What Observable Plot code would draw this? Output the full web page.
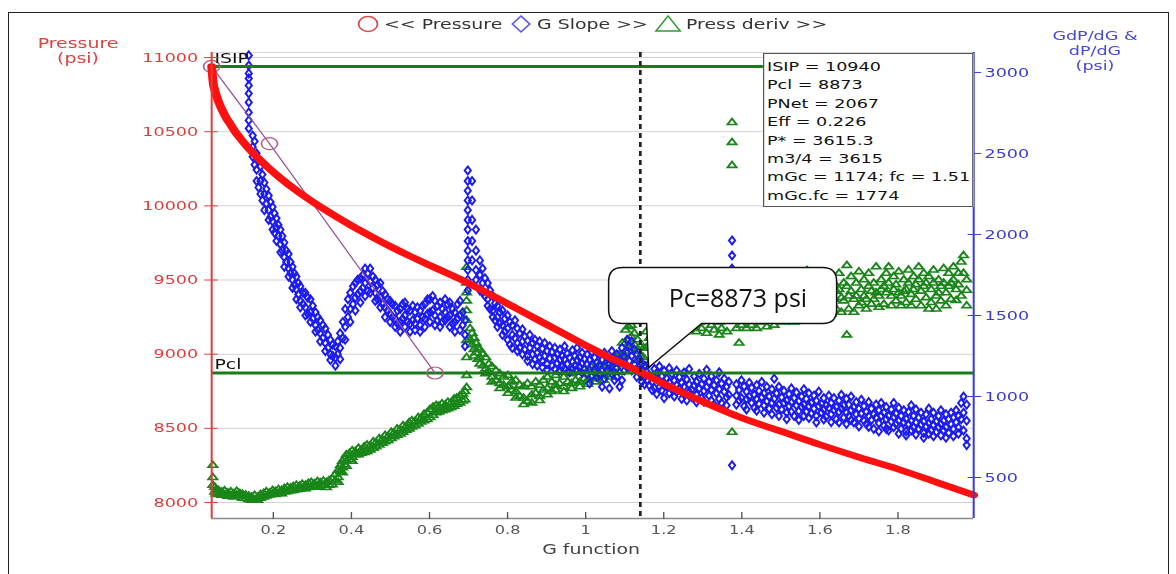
<!DOCTYPE html>
<html><head><meta charset="utf-8">
<script src="https://cdn.jsdelivr.net/npm/d3@7"></script>
<script src="https://cdn.jsdelivr.net/npm/@observablehq/plot@0.6"></script>
<style>
html,body{margin:0;padding:0;background:#fff;}
body{width:1176px;height:574px;overflow:hidden;position:relative;font-family:"DejaVu Sans",sans-serif;}
#frame{position:absolute;left:8px;top:12px;width:1161px;height:572px;border:1.5px solid #222;box-sizing:border-box;}
#stretch{position:absolute;left:0;top:0;width:871px;height:574px;transform:scaleX(1.3502);transform-origin:0 0;}
#chart{position:absolute;left:0;top:0;}
#legend{position:absolute;left:0;top:4px;}
.ttl{position:absolute;width:100px;text-align:center;line-height:15px;}
#ttlL{left:7.8px;top:35.5px;font-size:14px;color:#e04040;}
#ttlR{left:761px;top:27.5px;font-size:13px;color:#4848d8;}
#info{position:absolute;left:565.1px;top:53px;width:155.5px;height:154px;box-sizing:border-box;border:1px solid #555;background:#fff;padding:4px 0 0 2px;font-size:13px;line-height:18.4px;color:#111;white-space:nowrap;}
#xlabel{position:absolute;left:387.8px;width:100px;text-align:center;top:541px;font-size:14px;color:#444;}
#callout{position:absolute;left:0;top:0;}
</style></head><body>
<div id="frame"></div>
<div id="stretch">
  <div id="chart"></div>
  <svg id="legend" width="871" height="40"></svg>
  <div class="ttl" id="ttlL"></div>
  <div class="ttl" id="ttlR"></div>
  <div id="info"></div>
  <div id="xlabel"></div>
</div>
<svg id="callout" width="1176" height="574"></svg>
<script>
// ---------- data ----------
const ISIP = 10940;
const PCL = 8873;
const PC_G = 1.14;
const xDomain = [0.042, 1.994];
const yDomain = [7892, 11034];        // left axis (psi)
const rightDomain = [247, 3123];      // right axis (GdP/dG & dP/dG)
const xTicks = [0.2, 0.4, 0.6, 0.8, 1, 1.2, 1.4, 1.6, 1.8];
const leftTicks = [8000, 8500, 9000, 9500, 10000, 10500, 11000];
const rightTicks = [500, 1000, 1500, 2000, 2500, 3000];
const legendLabels = ["<< Pressure", "G Slope >>", "Press deriv >>"];
const leftTitle = ["Pressure", "(psi)"];
const rightTitle = ["GdP/dG &", "dP/dG", "(psi)"];
const xTitle = "G function";
const infoLines = ["ISIP = 10940", "Pcl = 8873", "PNet = 2067", "Eff = 0.226", "P* = 3615.3", "m3/4 = 3615", "mGc = 1174; fc = 1.51", "mGc.fc = 1774"];
const calloutText = "Pc=8873 psi";

const pressureG = [0.042,0.046,0.05,0.06,0.07,0.08,0.09,0.10,0.12,0.14,0.16,0.185,0.22,0.26,0.30,0.35,0.40,0.45,0.50,0.55,0.60,0.65,0.70,0.75,0.80,0.85,0.90,0.95,1.00,1.05,1.10,1.14,1.20,1.30,1.40,1.50,1.60,1.70,1.80,1.90,1.994];
const pressureP = [10940,10826,10780,10700,10640,10590,10550,10508,10440,10378,10324,10262,10183,10102,10029,9945,9867,9795,9726,9661,9600,9540,9478,9410,9340,9270,9200,9130,9060,8992,8930,8880,8800,8680,8570,8480,8390,8305,8225,8135,8050];

const tangentG = [0.042, 0.19, 0.614];
const tangentP = [10940, 10420, 8873];

// G Slope rows: [G, values...] (right axis units)
const gSlopeRows = [
[0.137,3105,3043,2994,2963,2920,2870,2815,2753,2704,2654],
[0.147,2610,2540,2480],[0.152,2575,2430],[0.157,2500,2400,2330],[0.162,2460,2290],[0.167,2420,2330,2250],
[0.172,2370,2210],[0.177,2320,2250,2150],[0.182,2280,2190],[0.188,2240,2150,2090],[0.193,2200,2110],
[0.198,2170,2080,2030],[0.203,2130,2010],[0.208,2100,2040,1960],[0.213,2060,1990],[0.218,2030,1940,1890],
[0.223,1990,1900],[0.228,1950,1860,1800],[0.233,1900,1830],[0.239,1880,1790,1740],[0.244,1830,1760],
[0.249,1800,1720,1670],[0.254,1760,1690],[0.259,1740,1660,1600],[0.264,1700,1630],[0.269,1680,1590,1550],
[0.276,1640,1570],[0.282,1640,1550,1500],[0.288,1610,1510],[0.295,1600,1520,1460],[0.301,1560,1480],
[0.308,1520,1440,1400],[0.314,1490,1410],[0.320,1470,1390,1340],[0.327,1440,1360],[0.333,1420,1330,1280],
[0.340,1380,1300],[0.346,1350,1260,1225],[0.352,1320,1250],[0.359,1310,1240,1190],[0.365,1340,1260],
[0.371,1390,1300,1230],[0.378,1460,1360],[0.384,1540,1430,1350],[0.391,1600,1490],[0.397,1640,1540,1460],
[0.404,1680,1570],[0.410,1700,1610,1530],[0.416,1720,1630],[0.423,1730,1650,1580],[0.429,1750,1670],
[0.435,1790,1700,1620],[0.442,1760,1650],[0.448,1790,1710,1640],[0.455,1740,1670],[0.461,1720,1640,1590],
[0.467,1690,1600],[0.474,1700,1610,1550],[0.480,1650,1570],[0.486,1630,1550,1490],[0.493,1600,1530],
[0.499,1590,1510,1460],[0.505,1570,1490],[0.512,1560,1480,1430],[0.518,1530,1450],[0.525,1540,1460,1400],
[0.531,1570,1480],[0.537,1580,1500,1430],[0.544,1540,1460],[0.550,1530,1450,1400],[0.557,1560,1470],
[0.563,1520,1450,1410],[0.569,1550,1480],[0.576,1530,1440,1400],[0.582,1560,1490],[0.588,1570,1480,1430],
[0.595,1600,1510],[0.601,1600,1520,1460],[0.608,1620,1530],[0.614,1590,1500,1440],[0.620,1560,1470],
[0.627,1580,1490,1430],[0.633,1540,1460],[0.640,1600,1520,1470],[0.646,1570,1490],[0.652,1580,1500,1430],
[0.659,1540,1450],[0.665,1520,1460,1400],[0.672,1570,1480],[0.678,1590,1500,1410],[0.685,1520,1440],
[0.691,1470,1380,1310],
[0.698,2395,2330,2270,2210,2150,2090,2030,1960,1900,1840,1780,1720,1655],
[0.709,2330,2210,2090,1960,1840],[0.719,2030,1900,1780,1720],[0.729,1840,1750,1655],
[0.736,1790,1700,1640],[0.742,1730,1620],[0.749,1700,1600,1560],[0.755,1655,1540],[0.762,1620,1530,1490],
[0.768,1575,1470],[0.774,1560,1490,1430],[0.780,1520,1450],[0.787,1530,1440,1380],[0.793,1480,1400],
[0.800,1500,1420,1350],[0.806,1460,1320],[0.812,1440,1380,1300],[0.819,1470,1360],[0.825,1420,1330,1280],
[0.831,1390,1300],[0.838,1415,1340,1260],[0.844,1370,1290],[0.851,1345,1250,1220],[0.857,1380,1300],
[0.864,1330,1260,1200],[0.870,1350,1230],[0.876,1310,1270,1190],[0.882,1340,1240],[0.889,1295,1220,1180],
[0.895,1330,1250],[0.901,1280,1200,1165],[0.908,1310,1235],[0.914,1275,1190],[0.921,1300,1240,1170],
[0.927,1260,1205],[0.934,1290,1225,1160],[0.940,1250,1185],[0.946,1310,1230,1175],[0.953,1265,1200],
[0.959,1240,1150],[0.966,1285,1215,1170],[0.972,1250,1190],[0.978,1300,1225,1160],[0.985,1240,1180],
[0.991,1270,1205,1145],[0.997,1230,1170],[1.004,1260,1200,1140],[1.010,1225,1080],[1.016,1275,1195,1130],
[1.023,1240,1160],[1.029,1210,1120],[1.036,1260,1190,1135],[1.042,1225,1060],[1.048,1270,1185,1110],
[1.055,1240,1160],[1.061,1200,1050],[1.067,1280,1190,1140],[1.074,1230,1100],[1.080,1260,1175,1120],
[1.087,1215,1060],[1.093,1300,1210,1100],[1.099,1250,1160],[1.106,1350,1270,1180],[1.112,1310,1220],
[1.118,1340,1250,1160],[1.125,1290,1200],[1.131,1260,1170,1120],[1.138,1230,1150],[1.144,1200,1130,1090],
[1.151,1190,1120,1075],[1.157,1150,1098],[1.163,1205,1130,1068],[1.170,1090,1040],[1.176,1170,1120,1052],
[1.182,1145,1015],[1.189,1186,1095,1060],[1.195,1125,1038],[1.201,1158,1080,990],[1.208,1110,1062],
[1.214,1175,1088,1020],[1.221,1140,1045],[1.227,1098,1000],[1.233,1160,1070,1030],[1.240,1120,1050],
[1.246,1085,985],[1.252,1148,1060,1012],[1.259,1105,975],[1.265,1170,1075,1030],[1.272,1040,995],
[1.278,1125,1068],[1.284,1090,1010,965],[1.291,1140,1050],[1.297,1075,990],[1.303,1110,1035,968],
[1.310,1165,1058],[1.316,1090,1005],[1.322,1125,1040,975],[1.329,1070,950],[1.335,1100,1020],
[1.342,1150,1045,985],[1.348,1080,960],[1.355,1110,1030],[1.361,1060,995,945],[1.367,1090,1010],
[1.375,1963,1870,1790,1716,1500,575],
[1.386,1075,1005,950],[1.393,1040,975],[1.399,1100,990],[1.406,1062,940],[1.412,1030,985,920],
[1.419,1085,1000],[1.425,1055,960],[1.432,1010,930],[1.438,1070,985,912],[1.444,1035,955],
[1.451,1090,995],[1.457,1020,945,900],[1.464,1060,970],[1.470,1000,925],[1.477,1045,960,890],
[1.483,1110,985],[1.489,1020,930],[1.495,1060,950,880],[1.502,995,920],[1.508,1035,960],
[1.515,975,900,860],[1.521,1015,940],[1.527,1050,965,905],[1.534,990,880],[1.540,1025,945],
[1.546,970,910,855],[1.553,1000,935],[1.559,1045,950,880],[1.565,985,905],[1.572,1020,940,868],
[1.578,960,895],[1.585,1005,925],[1.591,975,880,840],[1.597,1030,940],[1.604,955,900],
[1.610,990,920,858],[1.616,945,875],[1.623,1005,930],[1.629,960,890,842],[1.636,990,915],
[1.642,935,860],[1.649,975,905,840],[1.655,1010,925],[1.661,945,870],[1.668,985,900,830],
[1.674,950,880],[1.680,1000,915,855],[1.687,935,840],[1.693,965,890],[1.700,925,865,815],
[1.706,980,895],[1.713,940,850],[1.719,905,830],[1.725,965,880,812],[1.732,925,855],
[1.738,890,800],[1.744,950,870],[1.751,915,835,785],[1.757,960,880],[1.764,900,820],
[1.770,935,860,800],[1.776,880,790],[1.783,920,845],[1.789,960,870,810],[1.795,895,830],
[1.802,930,850,770],[1.808,880,800],[1.815,915,840],[1.821,860,785,760],[1.827,905,830],
[1.834,945,850,790],[1.840,880,810],[1.846,920,840,765],[1.853,870,800],[1.859,900,825],
[1.866,845,775,745],[1.872,890,815],[1.879,925,835,770],[1.885,860,790],[1.891,900,825,755],
[1.898,845,780],[1.904,880,810],[1.910,915,830,760],[1.917,850,790],[1.923,890,810,745],
[1.930,860,775],[1.936,900,830],[1.942,870,800,755],[1.949,915,840],[1.955,880,810,770],
[1.962,960,860],[1.968,1000,900,790],[1.976,950,850,740,700]
];

// Press deriv rows: [G, values...] (right axis units)
const pressDerivRows = [
[0.045,575,500,452],[0.050,440,410],[0.053,425,400],[0.060,420,395],[0.068,410,390],[0.075,418,392],
[0.083,405,385],[0.091,412,388],[0.098,400,380],[0.106,415,392],[0.114,402,384],[0.121,396,372],
[0.129,392,370],[0.137,386,364],[0.144,380,360],[0.152,390,362],[0.160,378,360],[0.167,395,372],
[0.175,402,380],[0.182,412,386],[0.190,405,392],[0.198,420,398],[0.205,414,395],[0.213,426,402],
[0.221,420,400],[0.228,432,410],[0.236,440,414],[0.244,436,418],[0.251,445,420],[0.259,452,425],
[0.267,446,428],[0.274,458,432],[0.282,452,430],[0.290,465,438],[0.297,470,442],[0.305,462,440],
[0.313,475,448],[0.320,468,440],[0.328,478,450],[0.336,470,438],[0.343,482,452],[0.351,490,455],
[0.359,520,480],[0.366,545,500,470],[0.372,575,535],[0.377,600,560,530],[0.382,615,580],[0.387,640,600,570],
[0.395,650,610],[0.402,665,625,600],[0.410,660,640],[0.418,680,640],[0.425,670,650],[0.433,690,655],
[0.440,700,660],[0.448,695,670],[0.456,720,680],[0.463,715,690],[0.471,740,700],[0.479,735,712],
[0.486,760,720],[0.494,755,728],[0.502,780,740],[0.509,775,752],[0.517,800,760],[0.525,795,768],
[0.532,820,780],[0.540,815,792],[0.548,840,800],[0.555,850,812],[0.563,845,820],[0.571,870,830],
[0.578,865,842],[0.586,890,850],[0.594,900,858],[0.601,920,870],[0.609,935,884],[0.617,945,900],
[0.624,940,905],[0.632,955,912],[0.640,948,918],[0.647,965,925],[0.655,960,932],[0.663,985,940],
[0.670,990,952],[0.678,1005,960],[0.685,1015,972],[0.691,1030,980],
[0.695,1797,1700,1640,1590,1530,1470,1346,1240,1130,1055],
[0.704,1420,1350],[0.709,1390,1320],[0.714,1360,1290,1250],[0.719,1330,1270],[0.724,1300,1230],
[0.729,1290,1240,1200],[0.737,1260,1190],[0.744,1240,1170,1140],[0.752,1200,1150],[0.760,1185,1120,1090],
[0.770,1160,1100],[0.780,1140,1080,1050],[0.790,1120,1070],[0.801,1130,1060,1020],[0.811,1090,1040],
[0.821,1100,1030,990],[0.831,1070,1000],[0.841,1060,990,950],[0.851,1080,970],[0.862,1060,1010,960],
[0.872,1090,1020],[0.882,1070,1000,975],[0.892,1100,1040],[0.902,1120,1050,1010],[0.913,1090,1030],
[0.923,1130,1070,1040],[0.933,1150,1080],[0.944,1120,1060,1030],[0.954,1150,1090],[0.964,1140,1080,1050],
[0.974,1160,1100],[0.985,1150,1090,1060],[0.995,1170,1110],[1.005,1160,1100,1075],[1.015,1180,1120],
[1.025,1170,1110,1090],[1.036,1200,1140],[1.046,1190,1130,1100],[1.056,1220,1150],[1.066,1230,1170,1120],
[1.076,1250,1180],[1.087,1260,1200,1150],[1.094,1330,1240],[1.102,1410,1330,1280],[1.110,1430,1350],
[1.117,1440,1370,1300],[1.125,1390,1320],[1.133,1350,1280,1220],[1.140,1310,1250],[1.148,1300,1240,1190],
[1.155,1400,1300],[1.163,1470,1360],[1.170,1420,1520],[1.176,1500,1390],[1.182,1560,1440],
[1.189,1530,1380],[1.195,1470,1410],[1.201,1590,1450],[1.208,1500,1360],[1.214,1560,1420],
[1.221,1480,1400],[1.227,1620,1510],[1.233,1450,1380],[1.240,1530,1440],[1.246,1580,1470],
[1.252,1500,1400],[1.259,1640,1530],[1.265,1470,1420],[1.272,1560,1490],[1.278,1610,1430],
[1.284,1520,1400],[1.291,1580,1460],[1.297,1490,1420],[1.303,1650,1530],[1.310,1470,1390],
[1.316,1560,1500],[1.322,1600,1440],[1.329,1520,1410],[1.335,1580,1480],[1.342,1460,1380],
[1.348,1540,1420],[1.355,1600,1500],[1.362,1480,1400],[1.375,2691,2568,2426,779],
[1.386,1560,1420],[1.393,1600,1480,1330],[1.399,1520,1440],[1.406,1650,1500],[1.412,1570,1420],
[1.419,1610,1480],[1.425,1530,1440],[1.432,1680,1560],[1.438,1500,1420],[1.444,1620,1540],
[1.451,1580,1460],[1.457,1650,1520],[1.464,1540,1430],[1.470,1600,1500],[1.477,1690,1560],
[1.483,1520,1440],[1.489,1630,1550],[1.495,1580,1480],[1.502,1700,1560],[1.508,1540,1460],
[1.515,1640,1560],[1.521,1600,1480],[1.527,1720,1580],[1.534,1550,1460],[1.540,1660,1570],
[1.546,1610,1500],[1.553,1740,1640],[1.559,1580,1490],[1.567,1778,1620,1530],[1.572,1680,1560],
[1.578,1620,1470],[1.585,1700,1590],[1.591,1560,1480],[1.597,1660,1580],[1.604,1720,1620],
[1.610,1600,1500],[1.616,1680,1560],[1.623,1740,1620],[1.629,1590,1510],[1.636,1700,1600],
[1.642,1650,1540],[1.649,1760,1660],[1.655,1610,1520],[1.661,1700,1590],[1.669,1809,1680,1380],
[1.674,1620,1540],[1.680,1740,1650],[1.687,1600,1520],[1.693,1700,1620],[1.700,1770,1560],
[1.706,1660,1580],[1.713,1720,1620],[1.719,1600,1540],[1.725,1760,1680],[1.732,1650,1570],
[1.738,1700,1600],[1.744,1800,1640],[1.751,1620,1550],[1.757,1720,1660],[1.764,1680,1570],
[1.770,1760,1640],[1.776,1800,1700],[1.783,1620,1560],[1.789,1740,1660],[1.795,1690,1590],
[1.802,1770,1640],[1.808,1620,1560],[1.815,1720,1650],[1.821,1660,1580],[1.827,1780,1700],
[1.834,1630,1560],[1.840,1740,1660],[1.846,1690,1600],[1.853,1800,1720],[1.859,1650,1560],
[1.866,1760,1680],[1.872,1700,1610],[1.879,1740,1540],[1.885,1660,1580],[1.891,1780,1700],
[1.898,1620,1540],[1.904,1720,1640],[1.910,1680,1590],[1.917,1790,1700],[1.923,1640,1560],
[1.930,1760,1680],[1.936,1700,1600],[1.942,1800,1720],[1.949,1660,1593],[1.955,1760,1690],
[1.962,1830,1620],[1.968,1870,1760],[1.976,1720,1655,1560]
];

// ---------- colours ----------
const RED_AX = "#e23b3b", RED_LINE = "#ff1010", BLUE_AX = "#3a3ad8", BLUE_PT = "#1c1cf0",
      GREEN_PT = "#1a861a", GREEN_LN = "#1c7a1c", PURPLE = "#9b4f9b";

const S = 1176 / 871;
const toLeft = v => yDomain[0] + (v - rightDomain[0]) * (yDomain[1] - yDomain[0]) / (rightDomain[1] - rightDomain[0]);
const fromLeft = p => rightDomain[0] + (p - yDomain[0]) * (rightDomain[1] - rightDomain[0]) / (yDomain[1] - yDomain[0]);

const pressure = pressureG.map((g, i) => ({g, p: pressureP[i]}));
const tangent = tangentG.map((g, i) => ({g, p: tangentP[i]}));
const slopePts = gSlopeRows.flatMap(([g, ...vs]) => vs.map(v => ({g, p: toLeft(v)})));
const derivPts = pressDerivRows.flatMap(([g, ...vs]) => vs.map(v => ({g, p: toLeft(v)})));
const rightTicksL = rightTicks.map(toLeft);
const none = () => "";

const chart = Plot.plot({
  width: 871, height: 574,
  marginLeft: 211 / S, marginRight: 871 - 973 / S, marginTop: 52, marginBottom: 56,
  x: {domain: xDomain},
  y: {domain: yDomain},
  style: {fontFamily: "DejaVu Sans", fontSize: "13px", background: "transparent", overflow: "visible"},
  marks: [
    Plot.gridY(leftTicks, {stroke: "#d2d2d2", strokeOpacity: 1}),
    Plot.ruleY([yDomain[1]], {stroke: "#d8d8d8"}),
    Plot.dot(derivPts, {x: "g", y: "p", symbol: "triangle", r: 2.5, stroke: GREEN_PT, strokeWidth: 1.6, fill: "none"}),
    Plot.dot(slopePts, {x: "g", y: "p", symbol: "diamond", r: 2.4, stroke: BLUE_PT, strokeWidth: 1.6, fill: "none"}),
    Plot.ruleY([ISIP, PCL], {stroke: GREEN_LN, strokeWidth: 3}),
    Plot.line(tangent, {x: "g", y: "p", stroke: PURPLE, strokeWidth: 1}),
    Plot.dot(tangent, {x: "g", y: "p", r: 6, stroke: "#b05a86", strokeWidth: 1.2, fill: "none"}),
    Plot.line(pressure, {x: "g", y: "p", stroke: RED_LINE, strokeWidth: 6.5, curve: "monotone-x"}),
    Plot.ruleX([PC_G], {stroke: "#222", strokeWidth: 2, strokeDasharray: "5,4"}),
    Plot.text([{p: ISIP, t: "ISIP"}, {p: PCL, t: "Pcl"}], {frameAnchor: "left", y: "p", text: "t", textAnchor: "start", dx: 2, dy: -8, fill: "#111", fontSize: 14}),
    Plot.ruleY([yDomain[0]], {stroke: "#8a8a8a", strokeWidth: 1.5}),
    Plot.ruleX([xDomain[0]], {stroke: RED_AX, strokeWidth: 1.5}),
    Plot.ruleX([xDomain[1]], {stroke: BLUE_AX, strokeWidth: 1.5}),
    Plot.axisX(xTicks, {tickSize: 0, tickPadding: 7, fontSize: 12, fill: "#555", label: null, tickFormat: d => d === 1 ? "1" : d.toFixed(1)}),
    Plot.axisX(xTicks, {anchor: "top", frameAnchor: "bottom", tickSize: 7, stroke: "#555", tickFormat: none, label: null}),
    Plot.axisY(leftTicks, {anchor: "left", tickSize: 5, tickPadding: 5, color: RED_AX, label: null, tickFormat: d => String(d)}),
    Plot.axisY(leftTicks, {anchor: "right", frameAnchor: "left", tickSize: 4, stroke: RED_AX, tickFormat: none, label: null}),
    Plot.axisY(rightTicksL, {anchor: "right", tickSize: 5, tickPadding: 3, color: BLUE_AX, label: null, tickFormat: d => String(Math.round(fromLeft(d)))}),
    Plot.axisY(rightTicksL, {anchor: "left", frameAnchor: "right", tickSize: 4, stroke: BLUE_AX, tickFormat: none, label: null})
  ]
});
document.getElementById("chart").append(chart);

// ---------- titles, info box ----------
document.getElementById("ttlL").innerHTML = leftTitle.join("<br>");
document.getElementById("ttlR").innerHTML = rightTitle.map(s => s.replace("&", "&amp;")).join("<br>");
document.getElementById("xlabel").textContent = xTitle;
document.getElementById("info").innerHTML = infoLines.map(s => `<div>${s}</div>`).join("");

// ---------- legend ----------
const lg = d3.select("#legend");
const ly = 20;
const items = [
  {sx: 272.6, tx: 284.4, color: "#d94a4a", kind: "circle"},
  {sx: 385.9, tx: 397.8, color: "#5a5ae6", kind: "diamond"},
  {sx: 494.8, tx: 508.1, color: "#2f9a2f", kind: "triangle"}
];
items.forEach((it, i) => {
  if (it.kind === "circle") lg.append("ellipse").attr("cx", it.sx).attr("cy", ly).attr("rx", 7).attr("ry", 7.5);
  else if (it.kind === "diamond") lg.append("path").attr("d", `M${it.sx},${ly-8}L${it.sx+6.5},${ly}L${it.sx},${ly+8}L${it.sx-6.5},${ly}Z`);
  else lg.append("path").attr("d", `M${it.sx},${ly-8}L${it.sx+9},${ly+7}L${it.sx-9},${ly+7}Z`);
  lg.select(":last-child").attr("fill", "none").attr("stroke", it.color).attr("stroke-width", 1.3);
  lg.append("text").attr("x", it.tx).attr("y", ly).attr("dy", "0.35em").attr("fill", "#333")
    .attr("font-family", "DejaVu Sans").attr("font-size", 14).text(legendLabels[i]);
});

// ---------- callout anchored at Pc ----------
const tx = chart.scale("x").apply(PC_G) * S + 9;
const ty = chart.scale("y").apply(PCL) - 5;
const L = tx - 40, R = tx + 188, T = ty - 100, B = ty - 44, rr = 14;
const co = d3.select("#callout");
co.append("path")
  .attr("d", `M${L+rr},${T}H${R-rr}Q${R},${T} ${R},${T+rr}V${B-rr}Q${R},${B} ${R-rr},${B}H${tx+53}L${tx},${ty}L${tx-2},${B}H${L+rr}Q${L},${B} ${L},${B-rr}V${T+rr}Q${L},${T} ${L+rr},${T}Z`)
  .attr("fill", "#fff").attr("stroke", "#111").attr("stroke-width", 1.5);
co.append("text").attr("x", tx + 20).attr("y", (T + B) / 2 + 3).attr("dy", "0.35em")
  .attr("font-family", "Open Sans").attr("font-size", 25).attr("fill", "#111").text(calloutText);
</script>
</body></html>
